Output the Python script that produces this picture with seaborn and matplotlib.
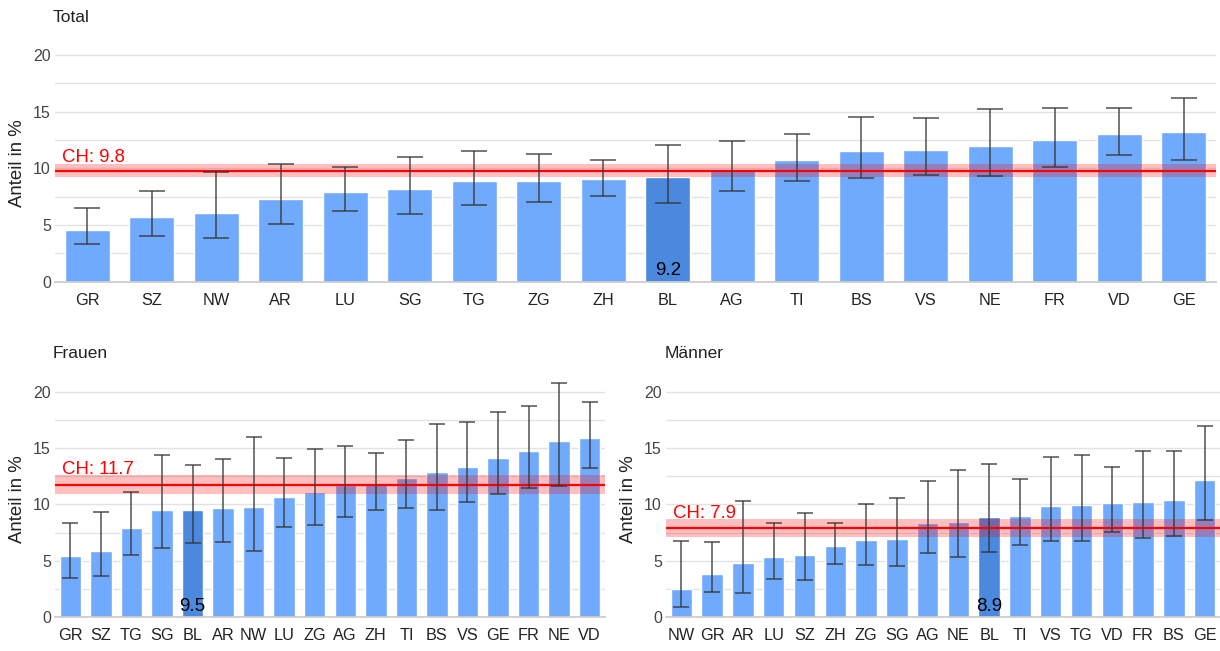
import matplotlib.pyplot as plt
import seaborn as sns
import pandas as pd

BAR_COLOR = "#70aafc"
HIGHLIGHT_COLOR = "#4a89dd"
CH_COLOR = "#ff0000"
HIGHLIGHT = "BL"

# --- Total ---
total_kantone = ["GR", "SZ", "NW", "AR", "LU", "SG", "TG", "ZG", "ZH",
                 "BL", "AG", "TI", "BS", "VS", "NE", "FR", "VD", "GE"]
total_werte = [4.6, 5.7, 6.1, 7.3, 7.9, 8.2, 8.9, 8.9, 9.1,
               9.2, 9.9, 10.7, 11.5, 11.6, 12.0, 12.5, 13.0, 13.2]
total_unten = [3.3, 4.0, 3.9, 5.05, 6.2, 6.0, 6.8, 7.0, 7.6,
               6.95, 8.0, 8.9, 9.15, 9.4, 9.3, 10.1, 11.15, 10.7]
total_oben = [6.5, 8.0, 9.65, 10.35, 10.1, 11.0, 11.5, 11.3, 10.7,
              12.1, 12.45, 13.05, 14.5, 14.45, 15.25, 15.35, 15.3, 16.2]
total_ch = 9.8
total_ch_band = (9.2, 10.4)

# --- Frauen ---
frauen_kantone = ["GR", "SZ", "TG", "SG", "BL", "AR", "NW", "LU", "ZG",
                  "AG", "ZH", "TI", "BS", "VS", "GE", "FR", "NE", "VD"]
frauen_werte = [5.4, 5.9, 7.9, 9.5, 9.5, 9.7, 9.8, 10.65, 11.1,
                11.7, 11.8, 12.35, 12.9, 13.3, 14.1, 14.75, 15.6, 15.9]
frauen_unten = [3.5, 3.7, 5.55, 6.15, 6.6, 6.65, 5.9, 8.0, 8.15,
                8.9, 9.5, 9.7, 9.5, 10.2, 10.9, 11.5, 11.65, 13.2]
frauen_oben = [8.4, 9.3, 11.1, 14.35, 13.5, 14.05, 15.95, 14.1, 14.95,
               15.2, 14.55, 15.7, 17.1, 17.3, 18.2, 18.7, 20.75, 19.1]
frauen_ch = 11.7
frauen_ch_band = (10.9, 12.6)

# --- Männer ---
maenner_kantone = ["NW", "GR", "AR", "LU", "SZ", "ZH", "ZG", "SG", "AG",
                   "NE", "BL", "TI", "VS", "TG", "VD", "FR", "BS", "GE"]
maenner_werte = [2.5, 3.85, 4.8, 5.35, 5.5, 6.3, 6.85, 6.95, 8.35,
                 8.45, 8.9, 9.0, 9.85, 9.95, 10.1, 10.2, 10.4, 12.15]
maenner_unten = [0.9, 2.25, 2.15, 3.4, 3.3, 4.7, 4.65, 4.55, 5.7,
                 5.35, 5.75, 6.45, 6.8, 6.75, 7.6, 7.0, 7.2, 8.65]
maenner_oben = [6.75, 6.7, 10.3, 8.35, 9.2, 8.4, 10.05, 10.6, 12.1,
                13.05, 13.6, 12.25, 14.2, 14.4, 13.3, 14.75, 14.75, 16.95]
maenner_ch = 7.9
maenner_ch_band = (7.15, 8.7)


def draw_panel(ax, kantone, werte, unten, oben, ch, ch_band, capsize, width_px):
    df = pd.DataFrame({"kanton": kantone, "wert": werte})
    palette = {k: (HIGHLIGHT_COLOR if k == HIGHLIGHT else BAR_COLOR) for k in kantone}
    sns.barplot(data=df, x="kanton", y="wert", hue="kanton", palette=palette,
                legend=False, width=0.7, saturation=1, ax=ax, zorder=2)

    # CH reference band + line
    ax.axhspan(ch_band[0], ch_band[1], color=CH_COLOR, alpha=0.25, lw=0, zorder=3)
    ax.axhline(ch, color=CH_COLOR, lw=1.6, zorder=4)
    ax.annotate(f"CH: {ch}", xy=(0, ch_band[1]), xycoords=("axes fraction", "data"),
                xytext=(5, 1), textcoords="offset points", color=CH_COLOR,
                fontsize=13.4, ha="left", va="baseline", zorder=6)

    # confidence intervals
    xs = list(range(len(kantone)))
    err = [[w - u for w, u in zip(werte, unten)],
           [o - w for w, o in zip(werte, oben)]]
    ax.errorbar(xs, werte, yerr=err, fmt="none", ecolor="#333333",
                elinewidth=1.1, capsize=capsize, capthick=1.1, alpha=0.85, zorder=5)

    # highlighted value label
    i = kantone.index(HIGHLIGHT)
    ax.text(i, 0.2, f"{werte[i]:.1f}", ha="center", va="bottom",
            fontsize=13.5, color="black", zorder=6)

    ax.set_xlim(-0.5, len(kantone) - 0.5)
    ax.set_ylim(0, 21)
    ax.set_yticks([0, 5, 10, 15, 20])
    ax.set_yticks([2.5, 7.5, 12.5, 17.5], minor=True)
    ax.grid(which="both", axis="y", color="#e2e2e2", lw=1)
    ax.grid(False, axis="x")
    ax.set_axisbelow(True)
    ax.tick_params(which="both", length=0)
    ax.tick_params(axis="y", labelsize=11.5, labelcolor="#444444", pad=3)
    ax.tick_params(axis="x", labelsize=11.7, labelcolor="#222222", pad=8)
    ax.set_xlabel("")
    ax.set_ylabel("Anteil in %", fontsize=13.4, color="#222222")
    ax.yaxis.set_label_coords(-29 / width_px, 0.5)
    for side in ["top", "right", "left"]:
        ax.spines[side].set_visible(False)
    ax.spines["bottom"].set_color("#cccccc")


sns.set_theme(style="white")
plt.rcParams["font.family"] = ["Liberation Sans", "DejaVu Sans"]

fig = plt.figure(figsize=(12.2, 6.51), dpi=100)
ax_total = fig.add_axes([55 / 1220, 1 - 281.7 / 651, 1161 / 1220, 238 / 651])
ax_frauen = fig.add_axes([55 / 1220, 1 - 617.3 / 651, 550 / 1220, 237 / 651])
ax_maenner = fig.add_axes([666 / 1220, 1 - 617.3 / 651, 554 / 1220, 237 / 651])

draw_panel(ax_total, total_kantone, total_werte, total_unten, total_oben,
           total_ch, total_ch_band, capsize=9.5, width_px=1161)
draw_panel(ax_frauen, frauen_kantone, frauen_werte, frauen_unten, frauen_oben,
           frauen_ch, frauen_ch_band, capsize=5.5, width_px=550)
draw_panel(ax_maenner, maenner_kantone, maenner_werte, maenner_unten, maenner_oben,
           maenner_ch, maenner_ch_band, capsize=5.5, width_px=554)

fig.text(53 / 1220, 1 - 17 / 651, "Total", fontsize=12.5, va="center", color="#222222")
fig.text(53 / 1220, 1 - 354 / 651, "Frauen", fontsize=12.5, va="center", color="#222222")
fig.text(665 / 1220, 1 - 354 / 651, "Männer", fontsize=12.5, va="center", color="#222222")

plt.savefig("out.png", dpi=100)
